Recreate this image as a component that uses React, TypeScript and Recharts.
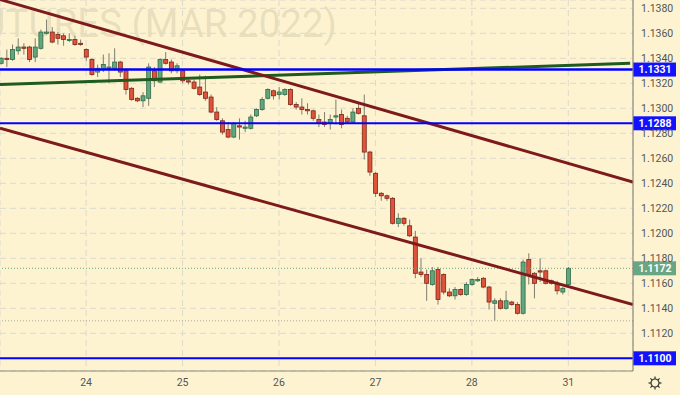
import React from 'react';
import { ComposedChart, Bar, XAxis, YAxis, CartesianGrid, ReferenceLine } from 'recharts';

// bar index of the first candle of each day
const dayTicks = [15, 32, 49, 66, 83, 100];
const dayLabels = ['24', '25', '26', '27', '28', '31'];
const priceTicks = [1.1120, 1.1140, 1.1160, 1.1180, 1.1200, 1.1220, 1.1240, 1.1260, 1.1280, 1.1300, 1.1320, 1.1340, 1.1360, 1.1380];

const opens = [
  1.1336, 1.1340, 1.1339, 1.1346, 1.1349, 1.1349, 1.1341, 1.1348, 1.1360, 1.1361,
  1.1359, 1.1358, 1.1355, 1.1355, 1.1352, 1.1347, 1.1339, 1.1329, 1.1331, 1.1332,
  1.1332, 1.1337, 1.1330, 1.1316, 1.1308, 1.1306, 1.1308, 1.1330, 1.1321, 1.1339,
  1.1337, 1.1330, 1.1330, 1.1322, 1.1321, 1.1317, 1.1313, 1.1309, 1.1297, 1.1290,
  1.1283, 1.1277, 1.1286, 1.1284, 1.1284, 1.1294, 1.1299, 1.1308, 1.1314, 1.1311,
  1.1311, 1.1315, 1.1303, 1.1301, 1.1299, 1.1298, 1.1291, 1.1289, 1.1288, 1.1293,
  1.1295, 1.1292, 1.1289, 1.1300, 1.1294, 1.1265, 1.1248, 1.1232, 1.1230, 1.1228,
  1.1208, 1.1212, 1.1206, 1.1197, 1.1169, 1.1167, 1.1159, 1.1171, 1.1167, 1.1153,
  1.1150, 1.1155, 1.1151, 1.1159, 1.1162, 1.1164, 1.1157, 1.1144, 1.1146, 1.1140,
  1.1145, 1.1143, 1.1136, 1.1179, 1.1168, 1.1170, 1.1170, 1.1162, 1.1160, 1.1153,
  1.1159,
];
const highs = [
  1.1341, 1.1347, 1.1351, 1.1356, 1.1352, 1.1350, 1.1356, 1.1363, 1.1371, 1.1365,
  1.1361, 1.1360, 1.1360, 1.1358, 1.1355, 1.1348, 1.1340, 1.1335, 1.1343, 1.1344,
  1.1348, 1.1338, 1.1332, 1.1317, 1.1309, 1.1313, 1.1336, 1.1333, 1.1340, 1.1345,
  1.1339, 1.1336, 1.1331, 1.1325, 1.1323, 1.1327, 1.1326, 1.1311, 1.1301, 1.1292,
  1.1289, 1.1289, 1.1292, 1.1290, 1.1295, 1.1300, 1.1309, 1.1316, 1.1315, 1.1317,
  1.1316, 1.1316, 1.1305, 1.1308, 1.1304, 1.1299, 1.1295, 1.1297, 1.1295, 1.1307,
  1.1299, 1.1294, 1.1300, 1.1304, 1.1311, 1.1266, 1.1249, 1.1233, 1.1231, 1.1229,
  1.1216, 1.1213, 1.1211, 1.1202, 1.1180, 1.1171, 1.1173, 1.1173, 1.1168, 1.1156,
  1.1157, 1.1156, 1.1161, 1.1164, 1.1165, 1.1165, 1.1158, 1.1148, 1.1148, 1.1154,
  1.1146, 1.1145, 1.1179, 1.1184, 1.1169, 1.1180, 1.1171, 1.1163, 1.1162, 1.1157,
  1.1173,
];
const lows = [
  1.1335, 1.1333, 1.1338, 1.1343, 1.1343, 1.1337, 1.1337, 1.1347, 1.1359, 1.1352,
  1.1351, 1.1350, 1.1353, 1.1350, 1.1350, 1.1338, 1.1326, 1.1325, 1.1329, 1.1320,
  1.1330, 1.1325, 1.1311, 1.1306, 1.1305, 1.1301, 1.1302, 1.1317, 1.1320, 1.1335,
  1.1328, 1.1328, 1.1320, 1.1319, 1.1315, 1.1310, 1.1306, 1.1296, 1.1290, 1.1279,
  1.1276, 1.1276, 1.1275, 1.1281, 1.1283, 1.1293, 1.1298, 1.1307, 1.1307, 1.1307,
  1.1310, 1.1302, 1.1299, 1.1295, 1.1295, 1.1290, 1.1285, 1.1285, 1.1283, 1.1287,
  1.1284, 1.1288, 1.1288, 1.1295, 1.1259, 1.1246, 1.1229, 1.1226, 1.1226, 1.1207,
  1.1205, 1.1206, 1.1197, 1.1164, 1.1165, 1.1146, 1.1158, 1.1143, 1.1151, 1.1149,
  1.1147, 1.1150, 1.1150, 1.1158, 1.1161, 1.1156, 1.1139, 1.1130, 1.1139, 1.1139,
  1.1142, 1.1135, 1.1135, 1.1159, 1.1148, 1.1161, 1.1159, 1.1159, 1.1151, 1.1151,
  1.1158,
];
const closes = [
  1.1340, 1.1339, 1.1347, 1.1349, 1.1348, 1.1339, 1.1349, 1.1361, 1.1361, 1.1353,
  1.1356, 1.1355, 1.1355, 1.1351, 1.1351, 1.1341, 1.1327, 1.1332, 1.1335, 1.1333,
  1.1337, 1.1329, 1.1315, 1.1307, 1.1306, 1.1310, 1.1333, 1.1322, 1.1339, 1.1336,
  1.1330, 1.1334, 1.1322, 1.1321, 1.1316, 1.1311, 1.1308, 1.1297, 1.1291, 1.1281,
  1.1277, 1.1288, 1.1285, 1.1285, 1.1293, 1.1299, 1.1307, 1.1315, 1.1310, 1.1313,
  1.1315, 1.1303, 1.1301, 1.1299, 1.1298, 1.1292, 1.1288, 1.1287, 1.1291, 1.1294,
  1.1287, 1.1289, 1.1297, 1.1296, 1.1265, 1.1249, 1.1232, 1.1230, 1.1228, 1.1208,
  1.1212, 1.1208, 1.1198, 1.1168, 1.1167, 1.1160, 1.1170, 1.1147, 1.1153, 1.1150,
  1.1155, 1.1151, 1.1159, 1.1163, 1.1163, 1.1157, 1.1145, 1.1146, 1.1140, 1.1146,
  1.1143, 1.1136, 1.1177, 1.1167, 1.1160, 1.1169, 1.1160, 1.1160, 1.1154, 1.1156,
  1.1172,
];

// drawn lines: [bar index, price] end points
const upperTrend = [[-0.18, 1.1387], [111.4, 1.1241]];
const lowerTrend = [[-0.18, 1.1284], [111.4, 1.1143]];
const greenTrend = [[-0.18, 1.1319], [110.9, 1.1336]];
const levels = [1.1331, 1.1288, 1.1100];
const lastPrice = 1.1172;
const prevLow = 1.1130;

const X_DOMAIN = [-0.18, 111.4];
const Y_DOMAIN = [1.108984, 1.138664];

const BG = '#fdf3d1';
const RED = '#e0533b';
const RED_EDGE = '#7d2416';
const GREEN = '#62a67e';
const GREEN_EDGE = '#2f6a48';
const WICK = '#7e7c72';
const AXIS = '#8c897e';
const GRID = '#ddd9cc';

const data = opens.map((o, i) => ({
  i,
  open: o,
  high: highs[i],
  low: lows[i],
  close: closes[i],
  range: [lows[i], highs[i]],
}));

const Candle = (props: any) => {
  const { x, y, width, height, payload } = props;
  if (x == null || y == null) return null;
  const { open, close, high, low } = payload;
  const top = Math.min(y, y + height);
  const h = Math.abs(height);
  const span = high - low;
  const yOf = (p: number) => (span > 0 ? top + ((high - p) / span) * h : top);
  const up = close >= open;
  const bTop = yOf(Math.max(open, close));
  const bBot = yOf(Math.min(open, close));
  const cx = x + width / 2;
  return (
    <g>
      <line x1={cx} x2={cx} y1={top} y2={top + h} stroke={WICK} strokeWidth={1} />
      <rect
        x={x}
        y={bTop}
        width={width}
        height={Math.max(bBot - bTop, 1)}
        fill={up ? GREEN : RED}
        stroke={up ? GREEN_EDGE : RED_EDGE}
        strokeWidth={0.8}
      />
    </g>
  );
};

const PriceTag = (props: any) => {
  const { viewBox, text, bg } = props;
  if (!viewBox) return null;
  const { x, y, width } = viewBox;
  const left = x + width;
  return (
    <g>
      <rect x={left} y={y - 7} width={43} height={14} fill={bg} />
      <text
        x={left + 22}
        y={y + 3.6}
        textAnchor="middle"
        fill="#ffffff"
        fontSize={10.5}
        fontWeight="bold"
        fontFamily="Roboto, sans-serif"
      >
        {text}
      </text>
    </g>
  );
};

const seg = (pts: number[][]) => pts.map(([x, y]) => ({ x, y }));

export default function App() {
  return (
    <div
      style={{
        position: 'absolute',
        left: 0,
        top: 0,
        width: 680,
        height: 395,
        background: BG,
        overflow: 'hidden',
        fontFamily: 'Roboto, sans-serif',
      }}
    >
      {/* watermark behind the chart */}
      <svg width={680} height={395} style={{ position: 'absolute', left: 0, top: 0 }}>
        <text
          x={337}
          y={37}
          textAnchor="end"
          fontSize={38.5}
          fontFamily="Roboto, sans-serif"
          fill="rgba(130,115,80,0.17)"
        >
          EURO FX FUTURES (MAR 2022)
        </text>
      </svg>

      <div style={{ position: 'absolute', left: 0, top: 0 }}>
        <ComposedChart width={680} height={395} data={data} margin={{ top: 0, right: 0, bottom: 0, left: 0 }}>
          <CartesianGrid stroke={GRID} strokeDasharray="6 4" />
          <XAxis
            dataKey="i"
            type="number"
            domain={X_DOMAIN}
            allowDataOverflow
            ticks={dayTicks}
            tickFormatter={(v: number) => dayLabels[dayTicks.indexOf(v)] ?? ''}
            tickLine={false}
            axisLine={{ stroke: AXIS, strokeWidth: 1.2 }}
            tick={{ fill: '#555', fontSize: 10.5 }}
            height={24}
            interval={0}
          />
          <YAxis
            orientation="right"
            type="number"
            domain={Y_DOMAIN}
            allowDataOverflow
            ticks={priceTicks}
            tickFormatter={(v: number) => v.toFixed(4)}
            tickLine={false}
            axisLine={{ stroke: AXIS, strokeWidth: 1.2 }}
            tick={{ fill: '#555', fontSize: 10.5, textAnchor: 'start' }}
            width={47}
            interval={0}
          />

          <ReferenceLine y={prevLow} stroke="#a8a898" strokeDasharray="1 2" />
          <ReferenceLine y={lastPrice} stroke="#6aa584" strokeDasharray="1 2" />

          <Bar dataKey="range" barSize={4} shape={<Candle />} isAnimationActive={false} />

          <ReferenceLine segment={seg(greenTrend)} stroke="#1f5a1f" strokeWidth={3} ifOverflow="hidden" />
          <ReferenceLine segment={seg(upperTrend)} stroke="#7c1a1c" strokeWidth={3} ifOverflow="hidden" />
          <ReferenceLine segment={seg(lowerTrend)} stroke="#7c1a1c" strokeWidth={3} ifOverflow="hidden" />

          <ReferenceLine
            y={levels[0]}
            stroke="#0000ff"
            strokeWidth={2.5}
            label={<PriceTag text={levels[0].toFixed(4)} bg="#1212ff" />}
          />
          <ReferenceLine
            y={levels[1]}
            stroke="#0000ff"
            strokeWidth={2}
            label={<PriceTag text={levels[1].toFixed(4)} bg="#1212ff" />}
          />
          <ReferenceLine
            y={levels[2]}
            stroke="#0000ff"
            strokeWidth={2}
            label={<PriceTag text={levels[2].toFixed(4)} bg="#1212ff" />}
          />
          <ReferenceLine
            y={lastPrice}
            stroke="none"
            label={<PriceTag text={lastPrice.toFixed(4)} bg="#6aa584" />}
          />
        </ComposedChart>
      </div>

      {/* settings gear */}
      <svg width={16} height={16} style={{ position: 'absolute', left: 647, top: 375 }}>
        <g transform="translate(8,8)" stroke="#333" strokeWidth={1.2} fill="none">
          <circle r={4} />
          {[0, 45, 90, 135, 180, 225, 270, 315].map((a) => (
            <line key={a} x1={0} y1={-4} x2={0} y2={-6.5} transform={`rotate(${a})`} />
          ))}
        </g>
      </svg>
    </div>
  );
}
